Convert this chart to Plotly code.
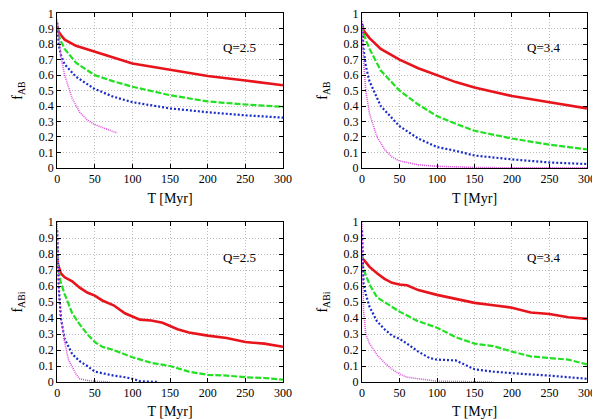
import plotly.graph_objects as go

# time grids (Myr) and fractions
t_ab_red_25 = [0, 2, 5, 10, 25, 50, 75, 100, 150, 200, 250, 300]
f_ab_red_25 = [0.92, 0.88, 0.86, 0.83, 0.79, 0.75, 0.71, 0.675, 0.635, 0.595, 0.565, 0.535]
t_ab_green_25 = [0, 2, 5, 10, 25, 50, 75, 100, 150, 200, 250, 300]
f_ab_green_25 = [0.92, 0.86, 0.82, 0.77, 0.68, 0.60, 0.56, 0.525, 0.47, 0.43, 0.41, 0.395]
t_ab_blue_25 = [0, 2, 5, 10, 25, 50, 75, 100, 150, 200, 250, 300]
f_ab_blue_25 = [0.94, 0.80, 0.73, 0.67, 0.59, 0.51, 0.46, 0.425, 0.385, 0.36, 0.34, 0.325]
t_ab_mag_25 = [0, 2, 5, 10, 20, 30, 40, 50, 60, 70, 80]
f_ab_mag_25 = [0.96, 0.85, 0.72, 0.60, 0.45, 0.36, 0.31, 0.28, 0.26, 0.24, 0.225]

t_ab_red_34 = [0, 2, 5, 10, 25, 50, 75, 100, 125, 150, 200, 250, 300]
f_ab_red_34 = [0.93, 0.89, 0.87, 0.84, 0.77, 0.70, 0.645, 0.60, 0.555, 0.52, 0.465, 0.425, 0.385]
t_ab_green_34 = [0, 2, 5, 10, 25, 50, 75, 100, 125, 150, 200, 250, 300]
f_ab_green_34 = [0.92, 0.87, 0.83, 0.77, 0.63, 0.50, 0.41, 0.335, 0.285, 0.24, 0.19, 0.15, 0.12]
t_ab_blue_34 = [0, 2, 5, 10, 25, 50, 75, 100, 125, 150, 200, 250, 300]
f_ab_blue_34 = [0.93, 0.77, 0.66, 0.56, 0.40, 0.27, 0.19, 0.135, 0.11, 0.08, 0.055, 0.035, 0.025]
t_ab_mag_34 = [0, 2, 5, 10, 20, 30, 40, 50, 75, 100, 150, 200, 300]
f_ab_mag_34 = [0.95, 0.70, 0.50, 0.35, 0.20, 0.12, 0.07, 0.045, 0.02, 0.01, 0.003, 0.0, 0.0]

t_abi_red_25 = [0, 1, 5, 10, 20, 30, 40, 50, 60, 75, 90, 100, 110, 125, 140, 150, 160, 175, 200, 225, 250, 275, 300]
f_abi_red_25 = [0.78, 0.74, 0.68, 0.655, 0.63, 0.59, 0.56, 0.54, 0.51, 0.48, 0.43, 0.41, 0.39, 0.385, 0.37, 0.35, 0.33, 0.31, 0.29, 0.275, 0.25, 0.24, 0.22]
t_abi_green_25 = [0, 1, 5, 10, 20, 30, 40, 50, 60, 75, 100, 125, 150, 175, 200, 225, 250, 275, 300]
f_abi_green_25 = [0.85, 0.72, 0.62, 0.55, 0.43, 0.36, 0.30, 0.25, 0.22, 0.20, 0.155, 0.12, 0.10, 0.065, 0.045, 0.04, 0.03, 0.025, 0.015]
t_abi_blue_25 = [0, 1, 2, 5, 10, 20, 30, 40, 50, 60, 75, 90, 100, 110, 120, 135]
f_abi_blue_25 = [0.95, 0.75, 0.60, 0.40, 0.27, 0.175, 0.13, 0.10, 0.065, 0.055, 0.04, 0.03, 0.02, 0.005, 0.003, 0.0]
t_abi_mag_25 = [0, 1, 2, 5, 10, 15, 20, 25, 30, 40, 50, 60, 70]
f_abi_mag_25 = [1.0, 0.75, 0.60, 0.40, 0.25, 0.14, 0.09, 0.05, 0.02, 0.01, 0.005, 0.002, 0.0]

t_abi_red_34 = [0, 1, 5, 10, 20, 30, 40, 50, 60, 75, 100, 125, 150, 175, 200, 225, 250, 275, 300]
f_abi_red_34 = [0.78, 0.77, 0.75, 0.72, 0.68, 0.645, 0.62, 0.61, 0.605, 0.575, 0.545, 0.52, 0.495, 0.48, 0.465, 0.435, 0.425, 0.405, 0.395]
t_abi_green_34 = [0, 1, 5, 10, 20, 30, 40, 50, 75, 100, 125, 150, 175, 200, 225, 250, 275, 300]
f_abi_green_34 = [0.80, 0.72, 0.67, 0.61, 0.53, 0.50, 0.47, 0.44, 0.38, 0.34, 0.28, 0.24, 0.225, 0.19, 0.16, 0.15, 0.14, 0.11]
t_abi_blue_34 = [0, 1, 2, 5, 10, 20, 30, 40, 50, 60, 75, 90, 100, 125, 140, 150, 175, 200, 250, 300]
f_abi_blue_34 = [0.95, 0.70, 0.62, 0.55, 0.47, 0.38, 0.33, 0.29, 0.27, 0.24, 0.19, 0.15, 0.14, 0.135, 0.10, 0.08, 0.065, 0.055, 0.04, 0.02]
t_abi_mag_34 = [0, 1, 2, 5, 10, 20, 30, 40, 50, 60, 75, 100, 125, 150, 175]
f_abi_mag_34 = [1.0, 0.60, 0.45, 0.30, 0.24, 0.17, 0.12, 0.08, 0.05, 0.03, 0.02, 0.005, 0.003, 0.001, 0.0]

q_labels = ["Q=2.5", "Q=3.4", "Q=2.5", "Q=3.4"]
y_titles = ["f<sub>AB</sub>", "f<sub>AB</sub>", "f<sub>ABi</sub>", "f<sub>ABi</sub>"]
x_ticks = [0, 50, 100, 150, 200, 250, 300]
y_ticks = [0, 0.1, 0.2, 0.3, 0.4, 0.5, 0.6, 0.7, 0.8, 0.9, 1]
y_ticktext = ["0", "0.1", "0.2", "0.3", "0.4", "0.5", "0.6", "0.7", "0.8", "0.9", "1"]

panels = [
    [(t_ab_red_25, f_ab_red_25), (t_ab_green_25, f_ab_green_25), (t_ab_blue_25, f_ab_blue_25), (t_ab_mag_25, f_ab_mag_25)],
    [(t_ab_red_34, f_ab_red_34), (t_ab_green_34, f_ab_green_34), (t_ab_blue_34, f_ab_blue_34), (t_ab_mag_34, f_ab_mag_34)],
    [(t_abi_red_25, f_abi_red_25), (t_abi_green_25, f_abi_green_25), (t_abi_blue_25, f_abi_blue_25), (t_abi_mag_25, f_abi_mag_25)],
    [(t_abi_red_34, f_abi_red_34), (t_abi_green_34, f_abi_green_34), (t_abi_blue_34, f_abi_blue_34), (t_abi_mag_34, f_abi_mag_34)],
]

styles = [
    dict(color="#e8141c", width=2.6, dash="solid"),
    dict(color="#22e022", width=2.2, dash="6px,2px"),
    dict(color="#1a2cc8", width=2.2, dash="2px,2px"),
    dict(color="#e050e0", width=1.6, dash="1px,1px"),
]

# the page body adds an 8px margin, so the figure is 592x411 and the domains allow for it
x_domains = [[0.083, 0.4645], [0.598, 0.978], [0.083, 0.4645], [0.598, 0.978]]
y_domains = [[0.611, 0.987], [0.611, 0.987], [0.090, 0.479], [0.090, 0.479]]

font = "Liberation Serif, Times New Roman, serif"
fig = go.Figure()

for i, series in enumerate(panels):
    n = "" if i == 0 else str(i + 1)
    for (t, f), st in zip(series, styles):
        fig.add_trace(go.Scatter(x=t, y=f, mode="lines", line=st, showlegend=False,
                                 xaxis="x" + n, yaxis="y" + n))
    axis_common = dict(showline=True, linecolor="black", linewidth=1, mirror="ticks",
                       ticks="inside", ticklen=4, tickcolor="black", automargin=False,
                       ticklabeloverflow="allow",
                       showgrid=True, gridcolor="#bdbdbd", griddash="1px,2px", gridwidth=1,
                       zeroline=False, tickfont=dict(family=font, size=12, color="black"))
    fig.update_layout(**{
        "xaxis" + n: dict(domain=x_domains[i], range=[0, 300], tickvals=x_ticks,
                          anchor="y" + n, title=dict(text="T [Myr]", standoff=7,
                                                     font=dict(family=font, size=14)),
                          **axis_common),
        "yaxis" + n: dict(domain=y_domains[i], range=[0, 1], tickvals=y_ticks, ticktext=y_ticktext,
                          anchor="x" + n, title=dict(text=y_titles[i], standoff=12,
                                                     font=dict(family=font, size=14)),
                          **axis_common),
    })
    fig.add_annotation(text=q_labels[i], x=242, y=0.78, xref="x" + n, yref="y" + n,
                       showarrow=False, xanchor="center",
                       font=dict(family=font, size=13, color="black"))

fig.update_layout(width=592, height=411, margin=dict(l=0, r=0, t=0, b=0),
                  plot_bgcolor="white", paper_bgcolor="white",
                  font=dict(family=font, color="black"))

fig.write_html("out.html")
